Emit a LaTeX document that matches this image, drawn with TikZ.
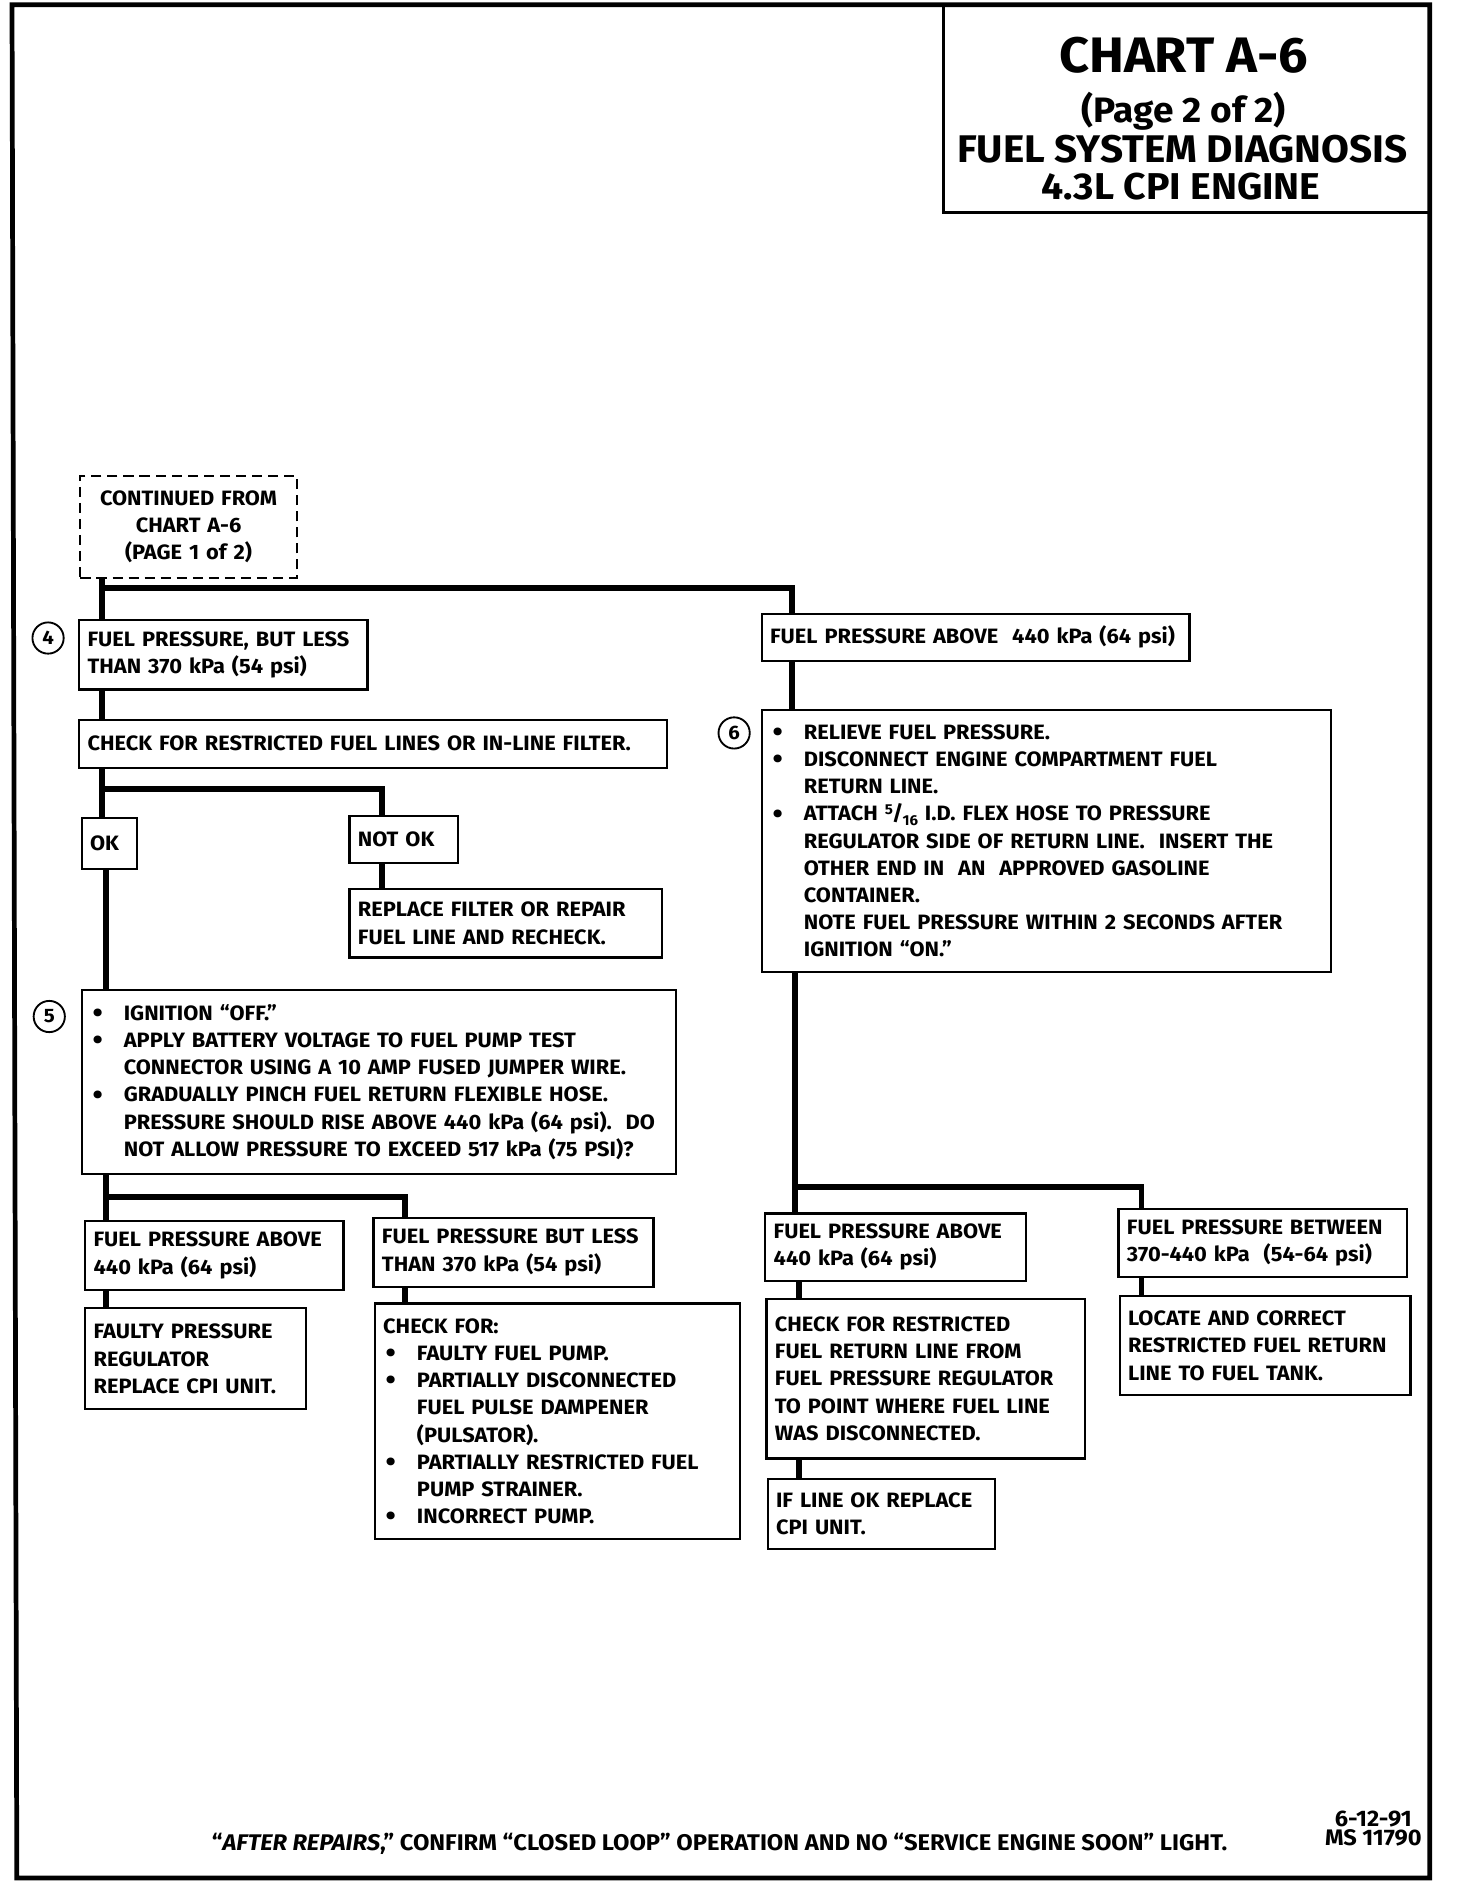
\documentclass[tikz,border=0pt]{standalone}
\usepackage{fontspec}
\setmainfont{Fira Sans}[FakeStretch=1.05]
\usetikzlibrary{calc}
\newcommand{\px}{0.025cm}
\newcommand{\boxfont}{\fontsize{12.3}{16.1}\selectfont\bfseries}
\newcommand{\bitem}{\makebox[20pt][l]{\hspace{1.5pt}\smash{\raisebox{-0.2ex}{\scalebox{1.35}{\textbullet}}}}}
\newcommand{\bcont}{\hspace*{20pt}}
\newcommand{\fivesixteen}{\raisebox{0.55ex}{\fontsize{8.5}{8.5}\selectfont 5}\kern-0.5pt/\kern-0.5pt\raisebox{-0.45ex}{\fontsize{8.5}{8.5}\selectfont 16}}

\begin{document}
\begin{tikzpicture}[x=\px, y=-\px,
    box/.style={draw, line width=1.3pt, anchor=north west, inner xsep=7*\px,
                inner ysep=0pt, align=left, font=\boxfont},
    dims/.style 2 args={minimum width=#1*\px, minimum height=#2*\px,
                        text width=(#1-14)*\px},
    conn/.style={line width=3.5pt},
    num/.style={draw, circle, line width=1.1pt, minimum size=26*\px,
                inner sep=0pt, font=\fontsize{11.5}{11.5}\selectfont\bfseries},
    frame/.style={line width=2.8pt}
  ]
    \useasboundingbox (0,0) rectangle (1212,1568);

    % page frame and title block
    \draw[frame] (10,4) -- (1190,4) -- (1190,1563) -- (14,1563) -- cycle;
    \node[draw, line width=1.5pt, anchor=north west, minimum width=406*\px,
          minimum height=172*\px, inner sep=0pt] (title) at (784,4) {};
    \node[font=\fontsize{29.5}{29.5}\selectfont\bfseries] (tA) at (985,46) {CHART A-6};
    \node[font=\fontsize{20.9}{20.9}\selectfont\bfseries] (tB) at (985,93) {(Page 2 of 2)};
    \node[font=\fontsize{22.8}{22.8}\selectfont\bfseries] (tC) at (984,124) {FUEL SYSTEM DIAGNOSIS};
    \node[font=\fontsize{22.1}{22.1}\selectfont\bfseries] (tD) at (983,155) {4.3L CPI ENGINE};

    % left branch
    \node[box, dims={180}{85}, dashed, dash pattern=on 6pt off 3.5pt, align=center]
      (cont) at (66,395) {CONTINUED FROM\\CHART A-6\\(PAGE 1 of 2)};
    \node[box, dims={240}{58}] (b4) at (65,515)
      {FUEL PRESSURE, BUT LESS\\THAN 370 kPa (54 psi)};
    \node[num] (c4) at (40,531) {4};
    \node[box, dims={489}{40}] (chk) at (65,598)
      {CHECK FOR RESTRICTED FUEL LINES OR IN-LINE FILTER.};
    \node[box, dims={46}{42}] (ok) at (67,680) {OK};
    \node[box, dims={90}{39}] (nok) at (290,678) {NOT OK};
    \node[box, dims={260}{57}] (rpl) at (290,739)
      {REPLACE FILTER OR REPAIR\\FUEL LINE AND RECHECK.};
    \node[box, dims={495}{153}] (b5) at (67,823)
      {\bitem IGNITION “OFF.”\\
       \bitem APPLY BATTERY VOLTAGE TO FUEL PUMP TEST\\
       \bcont CONNECTOR USING A 10 AMP FUSED JUMPER WIRE.\\
       \bitem GRADUALLY PINCH FUEL RETURN FLEXIBLE HOSE.\\
       \bcont PRESSURE SHOULD RISE ABOVE 440 kPa (64 psi).\ \ DO\\
       \bcont NOT ALLOW PRESSURE TO EXCEED 517 kPa (75 PSI)?};
    \node[num] (c5) at (41,846) {5};
    \node[box, dims={215}{58}] (lo1) at (70,1015)
      {FUEL PRESSURE ABOVE\\440 kPa (64 psi)};
    \node[box, dims={233}{57}] (lo2) at (310,1013)
      {FUEL PRESSURE BUT LESS\\THAN 370 kPa (54 psi)};
    \node[box, dims={184}{84}] (reg) at (70,1088)
      {FAULTY PRESSURE\\REGULATOR\\REPLACE CPI UNIT.};
    \node[box, dims={304}{196}] (chkfor) at (311,1084)
      {CHECK FOR:\\
       \bitem FAULTY FUEL PUMP.\\
       \bitem PARTIALLY DISCONNECTED\\
       \bcont FUEL PULSE DAMPENER\\
       \bcont (PULSATOR).\\
       \bitem PARTIALLY RESTRICTED FUEL\\
       \bcont PUMP STRAINER.\\
       \bitem INCORRECT PUMP.};

    % right branch
    \node[box, dims={356}{39}] (hi) at (633,510)
      {FUEL PRESSURE ABOVE\ \ 440 kPa (64 psi)};
    \node[box, dims={474}{218}] (b6) at (633,590)
      {\bitem RELIEVE FUEL PRESSURE.\\
       \bitem DISCONNECT ENGINE COMPARTMENT FUEL\\
       \bcont RETURN LINE.\\
       \bitem ATTACH \fivesixteen{} I.D. FLEX HOSE TO PRESSURE\\
       \bcont REGULATOR SIDE OF RETURN LINE.\ \ INSERT THE\\
       \bcont OTHER END IN\ \ AN\ \ APPROVED GASOLINE\\
       \bcont CONTAINER.\\
       \bcont NOTE FUEL PRESSURE WITHIN 2 SECONDS AFTER\\
       \bcont IGNITION “ON.”};
    \node[num] (c6) at (611,610) {6};
    \node[box, dims={217}{56}] (hi1) at (636,1009)
      {FUEL PRESSURE ABOVE\\440 kPa (64 psi)};
    \node[box, dims={240}{57}] (mid) at (930,1005)
      {FUEL PRESSURE BETWEEN\\370-440 kPa\ \ (54-64 psi)};
    \node[box, dims={265}{133}] (ret) at (637,1080)
      {CHECK FOR RESTRICTED\\FUEL RETURN LINE FROM\\FUEL PRESSURE REGULATOR\\TO POINT WHERE FUEL LINE\\WAS DISCONNECTED.};
    \node[box, dims={189}{58}] (cpi) at (638,1230)
      {IF LINE OK REPLACE\\CPI UNIT.};
    \node[box, dims={242}{82}] (tank) at (931,1078)
      {LOCATE AND CORRECT\\RESTRICTED FUEL RETURN\\LINE TO FUEL TANK.};

    % connectors
    \coordinate (j1) at (85,489);
    \coordinate (j2) at (85,657);
    \coordinate (j3) at (88,996);
    \coordinate (j4) at (662,988);
    \draw[conn] (cont.south -| j1) -- (b4.north -| j1);
    \draw[conn] (j1) -| ($(hi.north west)+(26,0)$);
    \draw[conn] (b4.south -| j1) -- (chk.north -| j1);
    \draw[conn] (chk.south -| j2) -- (ok.north -| j2);
    \draw[conn] (j2) -| ($(nok.north west)+(28,0)$);
    \draw[conn] ($(nok.south west)+(28,0)$) -- ($(rpl.north west)+(28,0)$);
    \draw[conn] (ok.south -| j3) -- (b5.north -| j3);
    \draw[conn] (b5.south -| j3) -- (lo1.north -| j3);
    \draw[conn] (j3) -| ($(lo2.north west)+(27,0)$);
    \draw[conn] (lo1.south -| j3) -- (reg.north -| j3);
    \draw[conn] ($(lo2.south west)+(27,0)$) -- ($(chkfor.north west)+(26,0)$);
    \draw[conn] ($(hi.south west)+(26,0)$) -- ($(b6.north west)+(26,0)$);
    \draw[conn] (b6.south -| j4) -- (hi1.north -| j4);
    \draw[conn] (j4) -| ($(mid.north west)+(20,0)$);
    \draw[conn] ($(hi1.south west)+(29,0)$) -- ($(ret.north west)+(28,0)$);
    \draw[conn] ($(ret.south west)+(28,0)$) -- ($(cpi.north west)+(27,0)$);
    \draw[conn] ($(mid.south west)+(20,0)$) -- ($(tank.north west)+(19,0)$);

    % footer
    \node[font=\fontsize{13.4}{13.4}\selectfont\bfseries, anchor=base] (foot) at (599,1540)
      {“\textit{AFTER REPAIRS},” CONFIRM “CLOSED LOOP” OPERATION AND NO “SERVICE ENGINE SOON” LIGHT.};
    \node[font=\fontsize{13.3}{11.6}\selectfont\bfseries, align=center] (date) at (1143,1522)
      {6-12-91\\MS 11790};
  \end{tikzpicture}
\end{document}
